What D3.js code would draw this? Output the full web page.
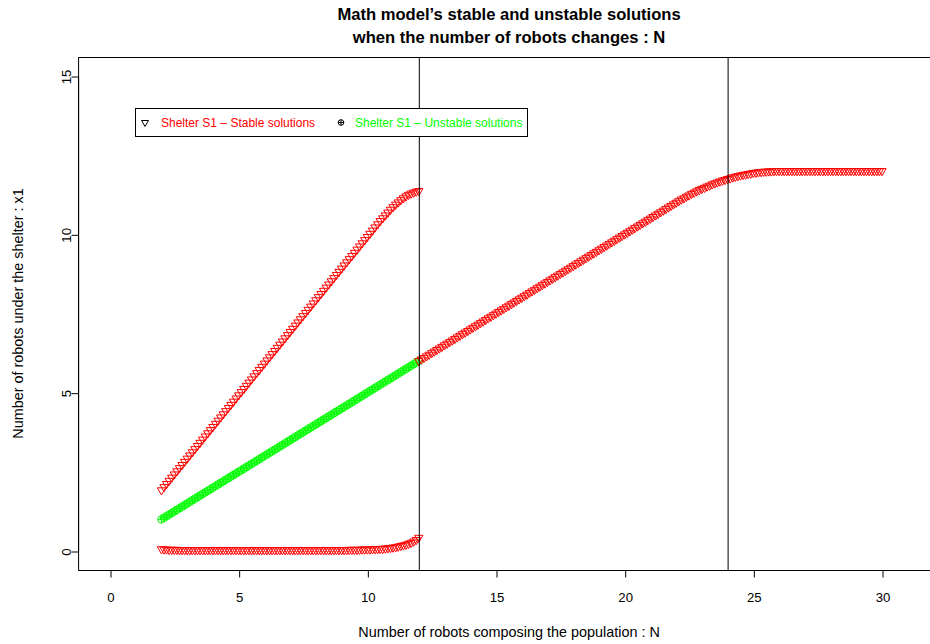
<!DOCTYPE html>
<html>
<head>
<meta charset="utf-8">
<script src="https://cdn.jsdelivr.net/npm/d3@7"></script>
<style>
  html, body { margin: 0; padding: 0; background: #fff; }
  svg { display: block; }
  text { font-family: "Liberation Sans", Arial, Helvetica, sans-serif; }
</style>
</head>
<body>
<svg id="chart" width="930" height="644"></svg>
<script>
// ---------------- DATA ----------------
const title = ["Math model\u2019s stable and unstable solutions", "when the number of robots changes : N"];
const xLabel = "Number of robots composing the population : N";
const yLabel = "Number of robots under the shelter : x1";
const xTicks = [0, 5, 10, 15, 20, 25, 30];
const yTicks = [0, 5, 10, 15];
const verticalLines = [12, 24];
const legendLabels = ["Shelter S1 \u2013 Stable solutions", "Shelter S1 \u2013 Unstable solutions"];

// N grids (step 0.1)
const nLow = d3.range(20, 121).map(i => i / 10);    // 2.0 .. 12.0
const nHigh = d3.range(120, 301).map(i => i / 10);  // 12.0 .. 30.0

// Stable solutions, upper branch, N = 2.0 .. 12.0
const stableUpper = [
  1.92,2.02,2.12,2.22,2.32,2.42,2.52,2.62,2.72,2.82,
  2.92,3.02,3.12,3.22,3.32,3.42,3.52,3.62,3.72,3.82,
  3.92,4.02,4.12,4.22,4.32,4.42,4.52,4.62,4.72,4.82,
  4.92,5.02,5.12,5.22,5.32,5.42,5.52,5.62,5.72,5.82,
  5.92,6.02,6.12,6.22,6.32,6.42,6.52,6.62,6.72,6.82,
  6.92,7.02,7.12,7.22,7.32,7.42,7.52,7.62,7.72,7.82,
  7.92,8.02,8.12,8.22,8.32,8.42,8.52,8.62,8.72,8.82,
  8.92,9.02,9.12,9.22,9.32,9.42,9.52,9.62,9.72,9.82,
  9.92,10.02,10.12,10.22,10.32,10.42,10.51,10.60,10.69,10.78,
  10.86,10.94,11.01,11.08,11.14,11.20,11.25,11.29,11.32,11.35,
  11.37
];

// Stable solutions, lower branch, N = 2.0 .. 12.0
const stableLower = [
  0.06,0.05,0.05,0.04,0.04,0.04,0.04,0.03,0.03,0.03,
  0.03,0.03,0.03,0.03,0.03,0.03,0.03,0.03,0.03,0.03,
  0.03,0.03,0.03,0.03,0.03,0.03,0.03,0.03,0.03,0.03,
  0.03,0.03,0.03,0.03,0.03,0.03,0.03,0.03,0.03,0.03,
  0.03,0.03,0.03,0.03,0.03,0.03,0.03,0.03,0.03,0.03,
  0.03,0.03,0.03,0.03,0.03,0.03,0.03,0.03,0.03,0.03,
  0.03,0.03,0.03,0.03,0.03,0.03,0.03,0.03,0.03,0.03,
  0.03,0.03,0.03,0.04,0.04,0.04,0.04,0.04,0.05,0.05,
  0.05,0.05,0.06,0.06,0.06,0.07,0.07,0.08,0.09,0.10,
  0.11,0.12,0.14,0.16,0.18,0.20,0.23,0.26,0.30,0.35,
  0.42
];

// Unstable solutions, N = 2.0 .. 12.0
const unstable = [
  1.00,1.05,1.10,1.15,1.20,1.25,1.30,1.35,1.40,1.45,
  1.50,1.55,1.60,1.65,1.70,1.75,1.80,1.85,1.90,1.95,
  2.00,2.05,2.10,2.15,2.20,2.25,2.30,2.35,2.40,2.45,
  2.50,2.55,2.60,2.65,2.70,2.75,2.80,2.85,2.90,2.95,
  3.00,3.05,3.10,3.15,3.20,3.25,3.30,3.35,3.40,3.45,
  3.50,3.55,3.60,3.65,3.70,3.75,3.80,3.85,3.90,3.95,
  4.00,4.05,4.10,4.15,4.20,4.25,4.30,4.35,4.40,4.45,
  4.50,4.55,4.60,4.65,4.70,4.75,4.80,4.85,4.90,4.95,
  5.00,5.05,5.10,5.15,5.20,5.25,5.30,5.35,5.40,5.45,
  5.50,5.55,5.60,5.65,5.70,5.75,5.80,5.85,5.90,5.95,
  6.00
];

// Stable solutions for N = 12.0 .. 30.0
const stableHigh = [
  6.00,6.05,6.10,6.15,6.20,6.25,6.30,6.35,6.40,6.45,
  6.50,6.55,6.60,6.65,6.70,6.75,6.80,6.85,6.90,6.95,
  7.00,7.05,7.10,7.15,7.20,7.25,7.30,7.35,7.40,7.45,
  7.50,7.55,7.60,7.65,7.70,7.75,7.80,7.85,7.90,7.95,
  8.00,8.05,8.10,8.15,8.20,8.25,8.30,8.35,8.40,8.45,
  8.50,8.55,8.60,8.65,8.70,8.75,8.80,8.85,8.90,8.95,
  9.00,9.05,9.10,9.15,9.20,9.25,9.30,9.35,9.40,9.45,
  9.50,9.55,9.60,9.65,9.70,9.75,9.80,9.85,9.90,9.95,
  10.00,10.05,10.10,10.15,10.20,10.25,10.30,10.35,10.40,10.45,
  10.50,10.55,10.60,10.65,10.70,10.75,10.80,10.85,10.90,10.95,
  11.00,11.05,11.10,11.14,11.19,11.23,11.28,11.32,11.36,11.40,
  11.44,11.47,11.51,11.54,11.58,11.61,11.64,11.67,11.70,11.72,
  11.75,11.77,11.80,11.82,11.84,11.86,11.88,11.89,11.91,11.92,
  11.94,11.95,11.96,11.97,11.98,11.98,11.99,11.99,12.00,12.00,
  12.00,12.00,12.00,12.00,12.00,12.00,12.00,12.00,12.00,12.00,
  12.00,12.00,12.00,12.00,12.00,12.00,12.00,12.00,12.00,12.00,
  12.00,12.00,12.00,12.00,12.00,12.00,12.00,12.00,12.00,12.00,
  12.00,12.00,12.00,12.00,12.00,12.00,12.00,12.00,12.00,12.00,
  12.00
];

// ---------------- DRAWING ----------------
const RED = "#FF0000", GREEN = "#00FF00";
const FONT = "Liberation Sans, Arial, Helvetica, sans-serif";
const svg = d3.select("#chart");

const x = d3.scaleLinear().domain([0, 30]).range([110, 882]);
const y = d3.scaleLinear().domain([0, 15]).range([551, 76]);

const box = { left: x(-1.24), right: 940, top: y(15.6), bottom: y(-0.6) };
const cx = (box.left + box.right) / 2;

// title
svg.selectAll("text.title").data(title).enter().append("text")
  .attr("class", "title")
  .attr("x", cx).attr("y", (d, i) => 20 + i * 23)
  .attr("text-anchor", "middle")
  .attr("font-size", 16.6).attr("font-weight", "bold")
  .text(d => d);

// markers
const triPath = (px, py) => {
  const r = 4.8, xc = 4.16, yc = 2.4;
  return `M${px},${py + r}L${px + xc},${py - yc}L${px - xc},${py - yc}Z`;
};
function drawTriangles(ns, vals) {
  svg.append("g").selectAll("path").data(ns.map((n, i) => [n, vals[i]])).enter()
    .append("path")
    .attr("d", d => triPath(x(d[0]), y(d[1])))
    .attr("fill", "none").attr("stroke", RED).attr("stroke-width", 1);
}
function drawCirclePlus(ns, vals, color) {
  const g = svg.append("g");
  const data = ns.map((n, i) => [n, vals[i]]);
  const r = 3.8;
  const p = g.selectAll("g").data(data).enter().append("g")
    .attr("transform", d => `translate(${x(d[0])},${y(d[1])})`);
  p.append("circle").attr("r", r).attr("fill", "none").attr("stroke", color).attr("stroke-width", 1);
  p.append("path").attr("d", `M${-r},0H${r}M0,${-r}V${r}`).attr("stroke", color).attr("stroke-width", 1);
}

drawTriangles(nLow, stableUpper);
drawTriangles(nLow, stableLower);
drawCirclePlus(nLow, unstable, GREEN);
drawTriangles(nHigh, stableHigh);

// vertical lines
svg.selectAll("line.vl").data(verticalLines).enter().append("line")
  .attr("x1", d => x(d) + 0.5).attr("x2", d => x(d) + 0.5)
  .attr("y1", box.top).attr("y2", box.bottom)
  .attr("stroke", "#000").attr("stroke-width", 1);

// box
svg.append("rect")
  .attr("x", box.left + 0.5).attr("y", box.top + 0.5)
  .attr("width", box.right - box.left).attr("height", box.bottom - box.top)
  .attr("fill", "none").attr("stroke", "#000").attr("stroke-width", 1);

// x axis
const xAxis = d3.axisBottom(x).tickValues(xTicks).tickSize(7).tickPadding(15).tickFormat(d3.format("d"));
const gx = svg.append("g").attr("transform", `translate(0.5,${box.bottom + 0.5})`).call(xAxis);
gx.select(".domain").attr("d", `M${x(0)},0H${x(30)}`);
gx.selectAll("text").attr("font-size", 13.2).attr("font-family", FONT).attr("fill", "#000");

// y axis
const yAxis = d3.axisLeft(y).tickValues(yTicks).tickSize(7).tickFormat(d3.format("d"));
const gy = svg.append("g").attr("transform", `translate(${box.left + 0.5},0.5)`).call(yAxis);
gy.select(".domain").attr("d", `M0,${y(0)}V${y(15)}`);
gy.selectAll("text")
  .attr("font-size", 13.2).attr("font-family", FONT).attr("fill", "#000")
  .attr("x", null).attr("dy", null)
  .attr("text-anchor", "middle")
  .attr("transform", "translate(-8,0) rotate(-90)");

// axis titles
svg.append("text").attr("x", cx).attr("y", 637).attr("text-anchor", "middle")
  .attr("font-size", 14.4).text(xLabel);
svg.append("text").attr("transform", `translate(23,${(box.top + box.bottom) / 2}) rotate(-90)`)
  .attr("text-anchor", "middle").attr("font-size", 14.4).text(yLabel);

// legend
const lg = svg.append("g");
lg.append("rect").attr("x", 135.5).attr("y", 108.5).attr("width", 392).attr("height", 28)
  .attr("fill", "#fff").attr("stroke", "#000").attr("stroke-width", 1);
lg.append("path").attr("d", (() => {
  const px = 145, py = 122.5, r = 4, xc = 3.46, yc = 2;
  return `M${px},${py + r}L${px + xc},${py - yc}L${px - xc},${py - yc}Z`;
})()).attr("fill", "none").attr("stroke", "#000").attr("stroke-width", 1);
const lc = lg.append("g").attr("transform", "translate(341,122.5)");
lc.append("circle").attr("r", 2.8).attr("fill", "none").attr("stroke", "#000").attr("stroke-width", 1);
lc.append("path").attr("d", "M-2.8,0H2.8M0,-2.8V2.8").attr("stroke", "#000").attr("stroke-width", 1);
lg.selectAll("text.leg").data(legendLabels).enter().append("text")
  .attr("class", "leg")
  .attr("x", (d, i) => i === 0 ? 161 : 355).attr("y", 127)
  .attr("font-size", 12)
  .attr("fill", (d, i) => i === 0 ? RED : GREEN)
  .text(d => d);
</script>
</body>
</html>
